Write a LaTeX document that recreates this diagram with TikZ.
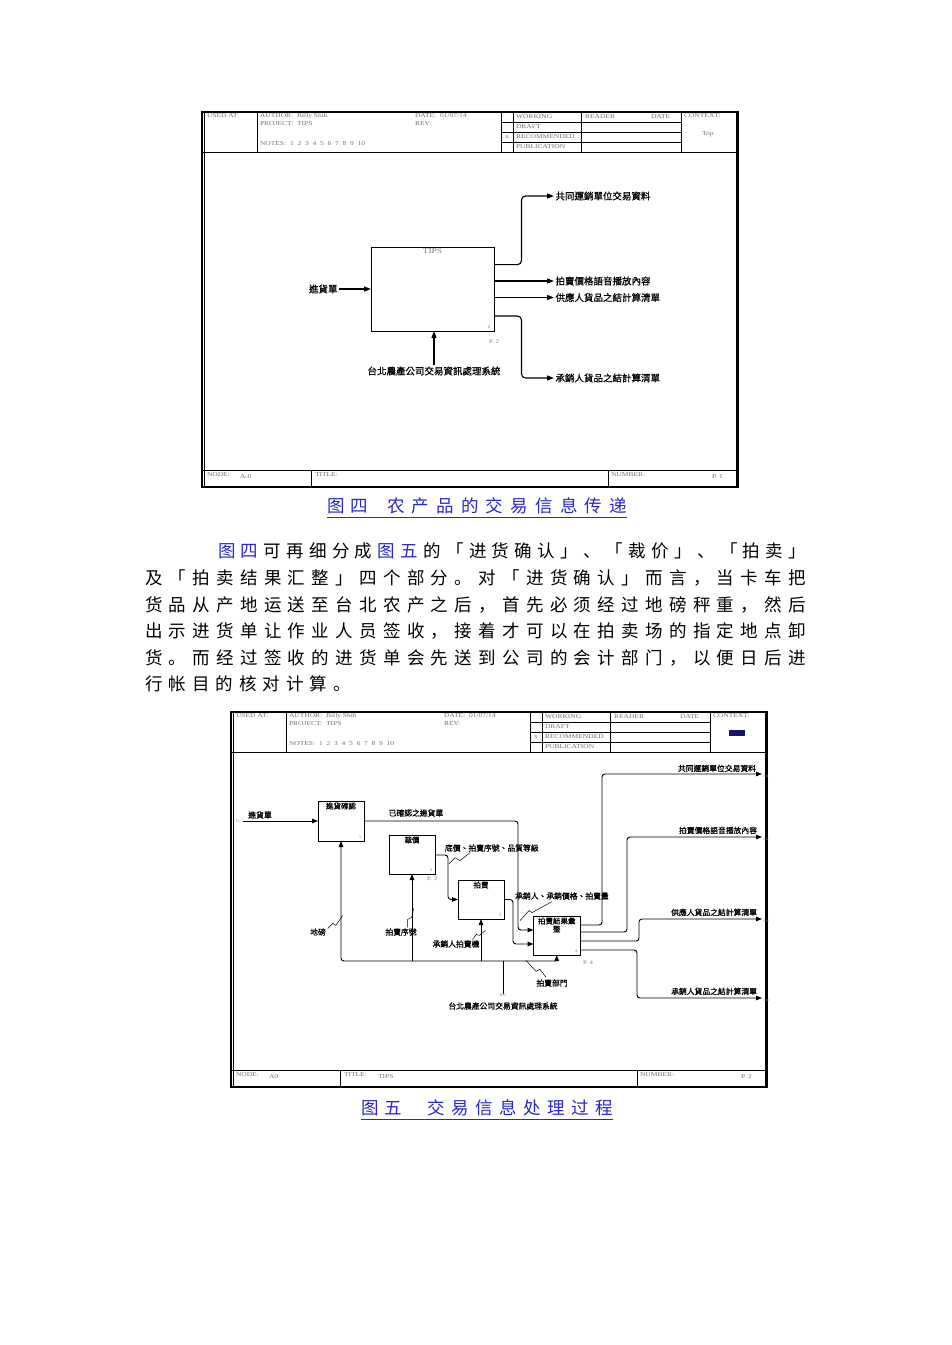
\documentclass[tikz,border=0pt]{standalone}
\usepackage{fontspec}
\setmainfont{Liberation Serif}
\newfontfamily\cjksc{Noto Sans CJK SC}
\newfontfamily\cjktc[FakeBold=0.8]{Noto Sans CJK TC}
\newfontfamily\hdrf[FakeStretch=1.25]{Liberation Serif}
\usetikzlibrary{arrows.meta,calc}
\definecolor{lnk}{RGB}{40,40,200}
\definecolor{navy}{RGB}{20,20,110}
\newcommand\bluech[1]{{\color{lnk}#1}}
\makeatletter
\def\spreadx#1{#1\spready}
\def\spready#1{\ifx\relax#1\else\hfil#1\expandafter\spready\fi}
\makeatother
\newcommand\ideframe[6]{%
\begin{scope}[shift={(#1)}]
\draw[frm] (202,112) rectangle (738,487);
\draw[line width=0.6pt] (204.2,112) -- (204.2,487) (735.8,112) -- (735.8,487);
\draw[grid] (202,152) -- (738,152)
  (257,112) -- (257,152)
  (501,112) -- (501,152) (513,112) -- (513,152) (581,112) -- (581,152) (681,112) -- (681,152)
  (501,122) -- (681,122) (501,132) -- (681,132) (501,142) -- (681,142)
  (202,470) -- (738,470) (311,470) -- (311,487) (608,470) -- (608,487);
\node[hd] (#2ua) at (207,116) {USED AT:};
\node[hd] (#2au) at (260,116) {AUTHOR:\ \ Billy Shih};
\node[hd] (#2pr) at (260,124) {PROJECT:\ \ TIPS};
\node[hd] (#2no) at (260,144) {NOTES:\ \ 1\ \ 2\ \ 3\ \ 4\ \ 5\ \ 6\ \ 7\ \ 8\ \ 9\ \ 10};
\node[hd] (#2da) at (415,116) {DATE:\ \ 01/07/14};
\node[hd] (#2rv) at (415,124) {REV:};
\node[hd] (#2wk) at (516,117) {WORKING};
\node[hd] (#2dr) at (516,127) {DRAFT};
\node[hd] (#2rc) at (516,137) {RECOMMENDED};
\node[hd] (#2pb) at (516,147) {PUBLICATION};
\node[hd] (#2x) at (505,137) {x};
\node[hd] (#2rd) at (585,117) {READER};
\node[hd] (#2dt) at (651,117) {DATE};
\node[hd] (#2cx) at (684,116) {CONTEXT:};
\node[hd] (#2nd) at (207,475) {NODE:};
\node[hd] (#2ndv) at (240,477) {#3};
\node[hd] (#2ti) at (315,475) {TITLE:};
\node[hd] (#2tiv) at (349,477) {#4};
\node[hd] (#2nu) at (611,475) {NUMBER:};
\node[hd] (#2nuv) at (712,477) {#5};
#6
\end{scope}}
\begin{document}
\begin{tikzpicture}[x=1pt,y=-1pt,
  every node/.style={inner sep=0pt, outer sep=0pt},
  frm/.style={line width=1.2pt},
  grid/.style={line width=0.9pt},
  hd/.style={anchor=west, font=\hdrf\fontsize{6}{6}\selectfont, text=black!55},
  fn/.style={font=\hdrf\fontsize{5.5}{6}\selectfont, text=black!50},
  box/.style={draw, line width=1pt, anchor=north west},
  lab/.style={inner sep=1.5pt, font=\cjktc\fontsize{9.5}{10}\selectfont},
  lab5/.style={inner sep=1pt, font=\cjktc\fontsize{7.8}{8}\selectfont},
  btl/.style={anchor=north, align=center, font=\cjktc\fontsize{7.5}{8}\selectfont},
  con/.style={line width=1.1pt, rounded corners=4pt},
  arr/.style={con, -{Triangle[length=7pt,width=5pt]}},
  con5/.style={line width=0.9pt, rounded corners=3pt},
  arr5/.style={con5, -{Triangle[length=6pt,width=4.5pt]}},
  lead/.style={line width=0.5pt},
  body/.style={anchor=west, font=\cjksc\fontsize{17.5}{20}\selectfont},
]
\useasboundingbox[fill=white] (0,0) rectangle (952,1345);

% ---------- Figure 4 ----------
\ideframe{0,0}{fa}{A-0}{}{P. 1}{\node[hd] (fatop) at (702,134) {Top};}
\node[box, minimum width=123pt, minimum height=84pt] (tips) at (371,247) {};
\node[fn, anchor=north, font=\hdrf\fontsize{7.5}{8}\selectfont] (tipst) at ($(tips.north)+(0,2)$) {TIPS};
\node[fn, font=\hdrf\fontsize{4}{4}\selectfont] (tips0) at ($(tips.south east)+(-5,-4)$) {0};
\node[fn, anchor=west] (tipsp) at (489,342) {P. 2};

\node[lab, anchor=east] (a0in) at (339,289) {進貨單};
\draw[arr] (a0in.east) -- (tips.west |- a0in.east);
\node[lab] (a0m) at (434,371) {台北農產公司交易資訊處理系統};
\draw[arr] (a0m.north) -- (a0m.north |- tips.south);

\node[lab, anchor=west] (a0o1) at (554,196) {共同運銷單位交易資料};
\node[lab, anchor=west] (a0o2) at (554,281) {拍賣價格語音播放內容};
\node[lab, anchor=west] (a0o3) at (554,297.5) {供應人貨品之結計算清單};
\node[lab, anchor=west] (a0o4) at (554,378) {承銷人貨品之結計算清單};
\draw[arr] ($(tips.north east)+(0,17.6)$) -- (521.5,264.6) -- (521.5,196) -- (a0o1.west);
\draw[arr] (tips.east |- a0o2.west) -- (a0o2.west);
\draw[arr] (tips.east |- a0o3.west) -- (a0o3.west);
\draw[arr] ($(tips.north east)+(0,69)$) -- (521.5,316) -- (521.5,378) -- (a0o4.west);

% caption 1
\node[body, text=lnk] (c1a) at (327,506) {\makebox[41.5pt][s]{\spreadx 图四\relax}};
\node[body, text=lnk] (c1b) at (387,506) {\makebox[240pt][s]{\spreadx 农产品的交易信息传递\relax}};
\draw[lnk, line width=0.9pt] (327,517) -- (627,517);

% body text
\node[body] (t1) at (218,551) {\makebox[588pt][s]{\spreadx{\bluech{图}}{\bluech{四}}可再细分成{\bluech{图}}{\bluech{五}}的「进货确认」、「裁价」、「拍卖」\relax}};
\node[body] (t2) at (145,578) {\makebox[661pt][s]{\spreadx 及「拍卖结果汇整」四个部分。对「进货确认」而言，当卡车把\relax}};
\node[body] (t3) at (145,605) {\makebox[661pt][s]{\spreadx 货品从产地运送至台北农产之后，首先必须经过地磅秤重，然后\relax}};
\node[body] (t4) at (145,631) {\makebox[661pt][s]{\spreadx 出示进货单让作业人员签收，接着才可以在拍卖场的指定地点卸\relax}};
\node[body] (t5) at (145,658) {\makebox[661pt][s]{\spreadx 货。而经过签收的进货单会先送到公司的会计部门，以便日后进\relax}};
\node[body] (t6) at (145,684) {\makebox[206pt][s]{\spreadx 行帐目的核对计算。\relax}};

% ---------- Figure 5 ----------
\ideframe{29,600}{fb}{A0}{TIPS}{P. 2}{\fill[navy] (700,129.5) rectangle (716,136);}
\node[box, minimum width=46pt, minimum height=40pt] (b1) at (318,801) {};
\node[box, minimum width=46pt, minimum height=39pt] (b2) at (389,835) {};
\node[box, minimum width=46pt, minimum height=39pt] (b3) at (458,880) {};
\node[box, minimum width=46.5pt, minimum height=39pt] (b4) at (533.5,916) {};
\node[btl] (b1t) at ($(b1.north)+(0,1.5)$) {進貨確認};
\node[btl] (b2t) at ($(b2.north)+(0,1.5)$) {裁價};
\node[btl] (b3t) at ($(b3.north)+(0,1.5)$) {拍賣};
\node[btl] (b4t) at ($(b4.north)+(0,1.5)$) {拍賣結果彙\\整};
\node[fn, font=\hdrf\fontsize{4}{4}\selectfont] (b1n) at ($(b1.south east)+(-4,-3.5)$) {1};
\node[fn, font=\hdrf\fontsize{4}{4}\selectfont] (b2n) at ($(b2.south east)+(-4,-3.5)$) {2};
\node[fn, font=\hdrf\fontsize{4}{4}\selectfont] (b3n) at ($(b3.south east)+(-4,-3.5)$) {3};
\node[fn, font=\hdrf\fontsize{4}{4}\selectfont] (b4n) at ($(b4.south east)+(-4,-3.5)$) {4};
\node[fn, anchor=west] (p3) at (427,879) {P. 3};
\node[fn, anchor=west] (p4) at (583,963) {P. 4};

% input
\node[fn, font=\hdrf\fontsize{4}{4}\selectfont] (i1) at (238,821) {I1};
\node[lab5] (b1inl) at (260,815) {進貨單};
\draw[arr5, shorten <=3pt] (i1.east) -- (b1.west |- i1.east);

% internal flows
\node[lab5] (l1) at (416,813) {已確認之進貨單};
\draw[arr5] (b1.east) -- (518,821) -- (518,930) -- ($(b4.north west)+(0,14)$);
\node[lab5, anchor=west] (l2) at (444,848) {底價、拍賣序號、品質等級};
\draw[arr5] ($(b2.north east)+(0,20)$) -- (448,855) -- (448,899.5) -- (b3.west);
\draw[lead] ($(l2.south west)+(5,11)$) -- ++(6,-6) -- ++(5,3) -- ++(10,-8);
\node[lab5] (l3) at (562,896) {承銷人、承銷價格、拍賣量};
\draw[arr5] (b3.east) -- (513,899.5) -- (513,944) -- ($(b4.north west)+(0,28)$);
\draw[lead] ($(l3.south)+(-10,1)$) -- ++(-20,11) -- ++(-3,-2) -- ++(-9,10);

% outputs
\coordinate (e1) at (762,774);
\coordinate (e2) at (762,837);
\coordinate (e3) at (762,919);
\coordinate (e4) at (762,998);
\draw[arr5] ($(b4.north east)+(0,9)$) -- (602,925) -- (602,774) -- (e1);
\draw[arr5] ($(b4.north east)+(0,16)$) -- (627,932) -- (627,837) -- (e2);
\draw[arr5] ($(b4.north east)+(0,25)$) -- (639,941) -- (639,919) -- (e3);
\draw[arr5] ($(b4.north east)+(0,34)$) -- (637,950) -- (637,998) -- (e4);
\node[lab5, anchor=south east] (o51) at (757,773) {共同運銷單位交易資料};
\node[lab5, anchor=south east] (o52) at (758,835) {拍賣價格語音播放內容};
\node[lab5, anchor=south east] (o53) at (758,917) {供應人貨品之結計算清單};
\node[lab5, anchor=south east] (o54) at (758,996) {承銷人貨品之結計算清單};
\node[fn, anchor=west, font=\hdrf\fontsize{3.5}{4}\selectfont] (ot1) at (763.5,776) {O1};
\node[fn, anchor=west, font=\hdrf\fontsize{3.5}{4}\selectfont] (ot2) at (763.5,839) {O2};
\node[fn, anchor=west, font=\hdrf\fontsize{3.5}{4}\selectfont] (ot3) at (763.5,921) {O3};
\node[fn, anchor=west, font=\hdrf\fontsize{3.5}{4}\selectfont] (ot4) at (763.5,1000) {O4};

% mechanisms
\node[lab5] (m5) at (503,1006) {台北農產公司交易資訊處理系統};
\node[fn, font=\hdrf\fontsize{4}{4}\selectfont] (m1) at (503,995) {M1};
\coordinate (bus) at (503,961);
\draw[con5] (m1.north) -- (bus);
\draw[arr5] (bus) -| (b1.south);
\draw[arr5, rounded corners=1.5pt] (bus) -| (b4.south);
\draw[arr5] (b2.south |- bus) -- (b2.south);
\draw[arr5] (b3.south |- bus) -- (b3.south);
\node[lab5] (mm1) at (318,932) {地磅};
\draw[lead] ($(mm1.north east)+(1,1)$) -- ++(5,-5) -- ++(3,2) -- ++(7,-10);
\node[lab5] (mm2) at (401,932) {拍賣序號};
\draw[lead] ($(mm2.north east)+(-10,0)$) -- ++(0,-8) -- ++(4,-2) -- ++(2,-9);
\node[lab5] (mm3) at (456,944) {承銷人拍賣機};
\draw[lead] ($(mm3.north east)+(-8,0)$) -- ++(4,-5) -- ++(3,1) -- ++(6,-5);
\node[lab5] (mm4) at (552,983) {拍賣部門};
\draw[lead] ($(mm4.north)+(-6,-1)$) -- ++(-6,-8) -- ++(-4,2) -- ++(-10,-11);

% caption 2
\node[body, text=lnk] (c2a) at (361,1108) {\makebox[41.5pt][s]{\spreadx 图五\relax}};
\node[body, text=lnk] (c2b) at (427.5,1108) {\makebox[185.5pt][s]{\spreadx 交易信息处理过程\relax}};
\draw[lnk, line width=0.9pt] (361,1119) -- (613,1119);
\end{tikzpicture}
\end{document}
